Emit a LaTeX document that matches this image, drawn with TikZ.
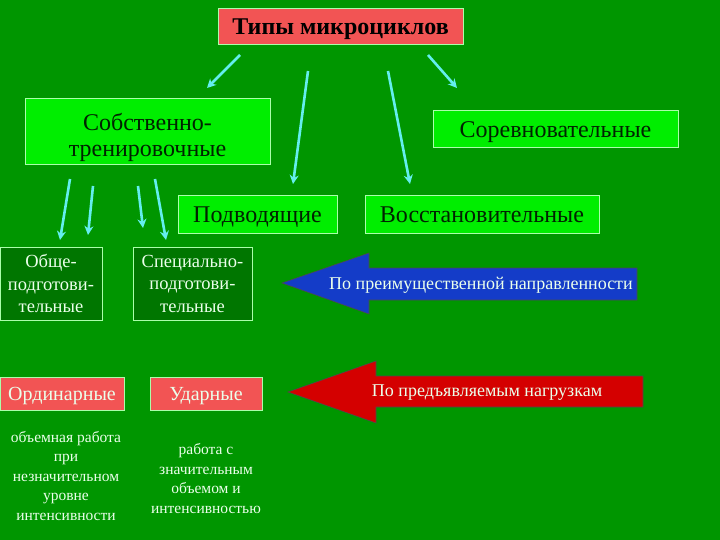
\documentclass[tikz,border=0pt]{standalone}
\usepackage{fontspec}
\setmainfont{Liberation Serif}
\usetikzlibrary{arrows.meta}
\definecolor{bg}{RGB}{0,150,0}
\definecolor{lgreen}{RGB}{0,238,0}
\definecolor{dgreen}{RGB}{0,118,0}
\definecolor{salmon}{RGB}{242,84,84}
\definecolor{edge}{RGB}{170,255,170}
\definecolor{cyanarr}{RGB}{100,238,238}
\definecolor{bluearr}{RGB}{20,60,200}
\definecolor{redarr}{RGB}{212,0,0}
\definecolor{darktext}{RGB}{0,35,0}
\definecolor{lighttext}{RGB}{235,255,235}
\tikzset{
  box/.style={draw=edge, line width=1pt, inner sep=0pt, align=center},
  lbox/.style={box, fill=lgreen, text=darktext, text depth=0pt, font=\fontsize{24}{26}\selectfont},
  dbox/.style={box, fill=dgreen, text=lighttext, font=\fontsize{18.5}{22.5}\selectfont},
  sbox/.style={box, fill=salmon, text=lighttext, text depth=0pt, font=\fontsize{20}{22}\selectfont},
  note/.style={text=lighttext, align=center, inner sep=0pt, font=\fontsize{15.5}{19.5}\selectfont},
  arrtext/.style={text=lighttext, inner sep=0pt, font=\fontsize{18}{20}\selectfont},
  carrow/.style={draw=cyanarr, line width=2.6pt, -{Stealth[length=9pt,width=9pt]}},
  bigarrow/.style={draw=black!70, line width=0.6pt}
}
\begin{document}
\begin{tikzpicture}[x=1pt,y=-1pt]
\useasboundingbox (0,0) rectangle (720,540);
\fill[bg] (0,0) rectangle (720,540);

\node[box, fill=salmon, text=black, text depth=0pt, font=\bfseries\fontsize{24}{26}\selectfont,
  minimum width=245pt, minimum height=36pt] (title) at (340.5,27) {Типы микроциклов};

\node[lbox, minimum width=245pt, minimum height=66pt] (sobst) at (147.5,132) {\rule{0pt}{23pt}Собственно-\\тренировочные};
\node[lbox, minimum width=245pt, minimum height=37pt] (sorev) at (555.5,129.5) {Соревновательные};
\node[lbox, minimum width=159pt, minimum height=37pt] (podv) at (257.5,214.5) {Подводящие};
\node[lbox, minimum width=234pt, minimum height=37pt] (vosst) at (482,214.5) {Восстановительные};

\node[dbox, minimum width=102pt, minimum height=73pt] (obsh) at (51,283.5) {Обще-\\подготови-\\тельные};
\node[dbox, minimum width=119pt, minimum height=73pt] (spec) at (192.5,283.5) {Специально-\\подготови-\\тельные};

\node[sbox, minimum width=124pt, minimum height=33pt] (ord) at (62,393.5) {Ординарные};
\node[sbox, minimum width=112pt, minimum height=33pt] (udar) at (206,393.5) {Ударные};

\node[note] (n1) at (66,476) {объемная работа\\при\\незначительном\\уровне\\интенсивности};
\node[note] (n2) at (206,478.5) {работа с\\значительным\\объемом и\\интенсивностью};

% big arrows
\fill[bluearr] (282,283) -- (369,253) -- (369,268) -- (637,268) -- (637,300) -- (369,300) -- (369,314) -- cycle;
\draw[bigarrow] (282,283) -- (369,253) -- (369,268) -- (637,268) -- (637,300) -- (369,300) -- (369,314) -- cycle;
\node[arrtext] (blue) at (481,285) {По преимущественной направленности};

\fill[redarr] (288,392) -- (376,361) -- (376,376) -- (643,376) -- (643,407) -- (376,407) -- (376,423) -- cycle;
\draw[bigarrow] (288,392) -- (376,361) -- (376,376) -- (643,376) -- (643,407) -- (376,407) -- (376,423) -- cycle;
\node[arrtext] (red) at (487,393) {По предъявляемым нагрузкам};

% cyan arrows
\coordinate (t1) at (240,55); \coordinate (e1) at (207,88);
\coordinate (t2) at (308,71); \coordinate (e2) at (293,184);
\coordinate (t3) at (388,71); \coordinate (e3) at (410,184);
\coordinate (t4) at (428,55); \coordinate (e4) at (457,88);
\draw[carrow] (t1) -- (e1);
\draw[carrow] (t2) -- (e2);
\draw[carrow] (t3) -- (e3);
\draw[carrow] (t4) -- (e4);

\coordinate (s1) at (70,179); \coordinate (f1) at (60,240);
\coordinate (s2) at (93,186); \coordinate (f2) at (88,235);
\coordinate (s3) at (138,186); \coordinate (f3) at (143,228);
\coordinate (s4) at (155,179); \coordinate (f4) at (166,240);
\draw[carrow] (s1) -- (f1);
\draw[carrow] (s2) -- (f2);
\draw[carrow] (s3) -- (f3);
\draw[carrow] (s4) -- (f4);
\end{tikzpicture}
\end{document}
